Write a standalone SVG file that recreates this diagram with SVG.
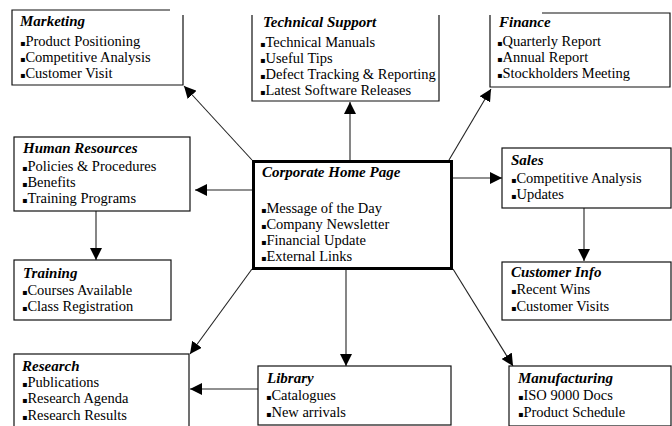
<svg xmlns="http://www.w3.org/2000/svg" width="672" height="426" viewBox="0 0 672 426">
<style>
.box{fill:#fff;stroke:#111;stroke-width:1.2}
.edge{fill:none;stroke:#111;stroke-width:1.2}
.ttl{font-family:"Liberation Serif","Times New Roman",serif;font-size:15px;font-weight:bold;font-style:italic;fill:#000}
.itm{font-family:"Liberation Serif","Times New Roman",serif;font-size:14.5px;fill:#000}
.b{font-family:"DejaVu Sans",sans-serif;font-size:8px}
.conn{fill:none;stroke:#222;stroke-width:1.1;marker-end:url(#ah)}
</style>
<defs>
<marker id="ah" markerUnits="userSpaceOnUse" markerWidth="12" markerHeight="12" viewBox="0 0 12 12" refX="12" refY="6" orient="auto">
<path d="M0,0 L12,6 L0,12 z" fill="#000"/>
</marker>
</defs>
<rect width="672" height="426" fill="#fff"/>
<g id="connectors">
<line class="conn" x1="252" y1="160" x2="184" y2="86"/>
<line class="conn" x1="350" y1="160" x2="350" y2="102"/>
<line class="conn" x1="449" y1="160" x2="491" y2="89"/>
<line class="conn" x1="252" y1="190" x2="195" y2="190"/>
<line class="conn" x1="453" y1="178" x2="502" y2="178"/>
<line class="conn" x1="96" y1="211" x2="96" y2="260"/>
<line class="conn" x1="584" y1="208" x2="584" y2="261"/>
<line class="conn" x1="252" y1="269" x2="190" y2="354"/>
<line class="conn" x1="346" y1="269" x2="346" y2="366"/>
<line class="conn" x1="453" y1="269" x2="513" y2="366"/>
<line class="conn" x1="258" y1="389" x2="190" y2="389"/>
</g>
<g id="marketing">
<rect x="12" y="10" width="171" height="75" fill="#fff"/>
<path class="edge" d="M170,10 H12 V85 H183 V15"/>
<text class="ttl" x="20" y="26">Marketing</text>
<text class="itm" x="20" y="46"><tspan class="b">▪</tspan>Product Positioning</text>
<text class="itm" x="20" y="62"><tspan class="b">▪</tspan>Competitive Analysis</text>
<text class="itm" x="20" y="78"><tspan class="b">▪</tspan>Customer Visit</text>
</g>
<g id="technical-support">
<path class="edge" d="M252,15 V101 H439 V15"/>
<text class="ttl" x="263" y="27">Technical Support</text>
<text class="itm" x="260" y="47"><tspan class="b">▪</tspan>Technical Manuals</text>
<text class="itm" x="260" y="63"><tspan class="b">▪</tspan>Useful Tips</text>
<text class="itm" x="260" y="79"><tspan class="b">▪</tspan>Defect Tracking &amp; Reporting</text>
<text class="itm" x="260" y="95"><tspan class="b">▪</tspan>Latest Software Releases</text>
</g>
<g id="finance">
<path class="edge" d="M542,13 H670 V87 H490 V15"/>
<text class="ttl" x="499" y="27">Finance</text>
<text class="itm" x="497" y="46"><tspan class="b">▪</tspan>Quarterly Report</text>
<text class="itm" x="497" y="62"><tspan class="b">▪</tspan>Annual Report</text>
<text class="itm" x="497" y="78"><tspan class="b">▪</tspan>Stockholders Meeting</text>
</g>
<g id="human-resources">
<rect class="box" x="14" y="137" width="176" height="74"/>
<text class="ttl" x="23" y="153">Human Resources</text>
<text class="itm" x="22" y="171"><tspan class="b">▪</tspan>Policies &amp; Procedures</text>
<text class="itm" x="22" y="187"><tspan class="b">▪</tspan>Benefits</text>
<text class="itm" x="22" y="203"><tspan class="b">▪</tspan>Training Programs</text>
</g>
<g id="corporate-home-page">
<rect x="253.5" y="161.5" width="198" height="107" fill="#fff" stroke="#000" stroke-width="3"/>
<text class="ttl" x="262" y="177">Corporate Home Page</text>
<text class="itm" x="261" y="213"><tspan class="b">▪</tspan>Message of the Day</text>
<text class="itm" x="261" y="229"><tspan class="b">▪</tspan>Company Newsletter</text>
<text class="itm" x="261" y="245"><tspan class="b">▪</tspan>Financial Update</text>
<text class="itm" x="261" y="261"><tspan class="b">▪</tspan>External Links</text>
</g>
<g id="sales">
<rect class="box" x="502" y="148" width="169" height="60"/>
<text class="ttl" x="511" y="165">Sales</text>
<text class="itm" x="511" y="183"><tspan class="b">▪</tspan>Competitive Analysis</text>
<text class="itm" x="511" y="199"><tspan class="b">▪</tspan>Updates</text>
</g>
<g id="training">
<rect class="box" x="14" y="260" width="157" height="60"/>
<text class="ttl" x="23" y="278">Training</text>
<text class="itm" x="22" y="295"><tspan class="b">▪</tspan>Courses Available</text>
<text class="itm" x="22" y="311"><tspan class="b">▪</tspan>Class Registration</text>
</g>
<g id="customer-info">
<rect class="box" x="502" y="262" width="169" height="58"/>
<text class="ttl" x="511" y="277">Customer Info</text>
<text class="itm" x="511" y="294"><tspan class="b">▪</tspan>Recent Wins</text>
<text class="itm" x="511" y="311"><tspan class="b">▪</tspan>Customer Visits</text>
</g>
<g id="research">
<rect class="box" x="14" y="354" width="175" height="80"/>
<text class="ttl" x="22" y="371">Research</text>
<text class="itm" x="22" y="387"><tspan class="b">▪</tspan>Publications</text>
<text class="itm" x="22" y="403"><tspan class="b">▪</tspan>Research Agenda</text>
<text class="itm" x="22" y="420"><tspan class="b">▪</tspan>Research Results</text>
</g>
<g id="library">
<rect class="box" x="258" y="366" width="193" height="59"/>
<text class="ttl" x="267" y="383">Library</text>
<text class="itm" x="266" y="400"><tspan class="b">▪</tspan>Catalogues</text>
<text class="itm" x="266" y="417"><tspan class="b">▪</tspan>New arrivals</text>
</g>
<g id="manufacturing">
<rect class="box" x="509" y="366" width="162" height="60"/>
<text class="ttl" x="518" y="383">Manufacturing</text>
<text class="itm" x="518" y="400"><tspan class="b">▪</tspan>ISO 9000 Docs</text>
<text class="itm" x="518" y="417"><tspan class="b">▪</tspan>Product Schedule</text>
</g>
</svg>
